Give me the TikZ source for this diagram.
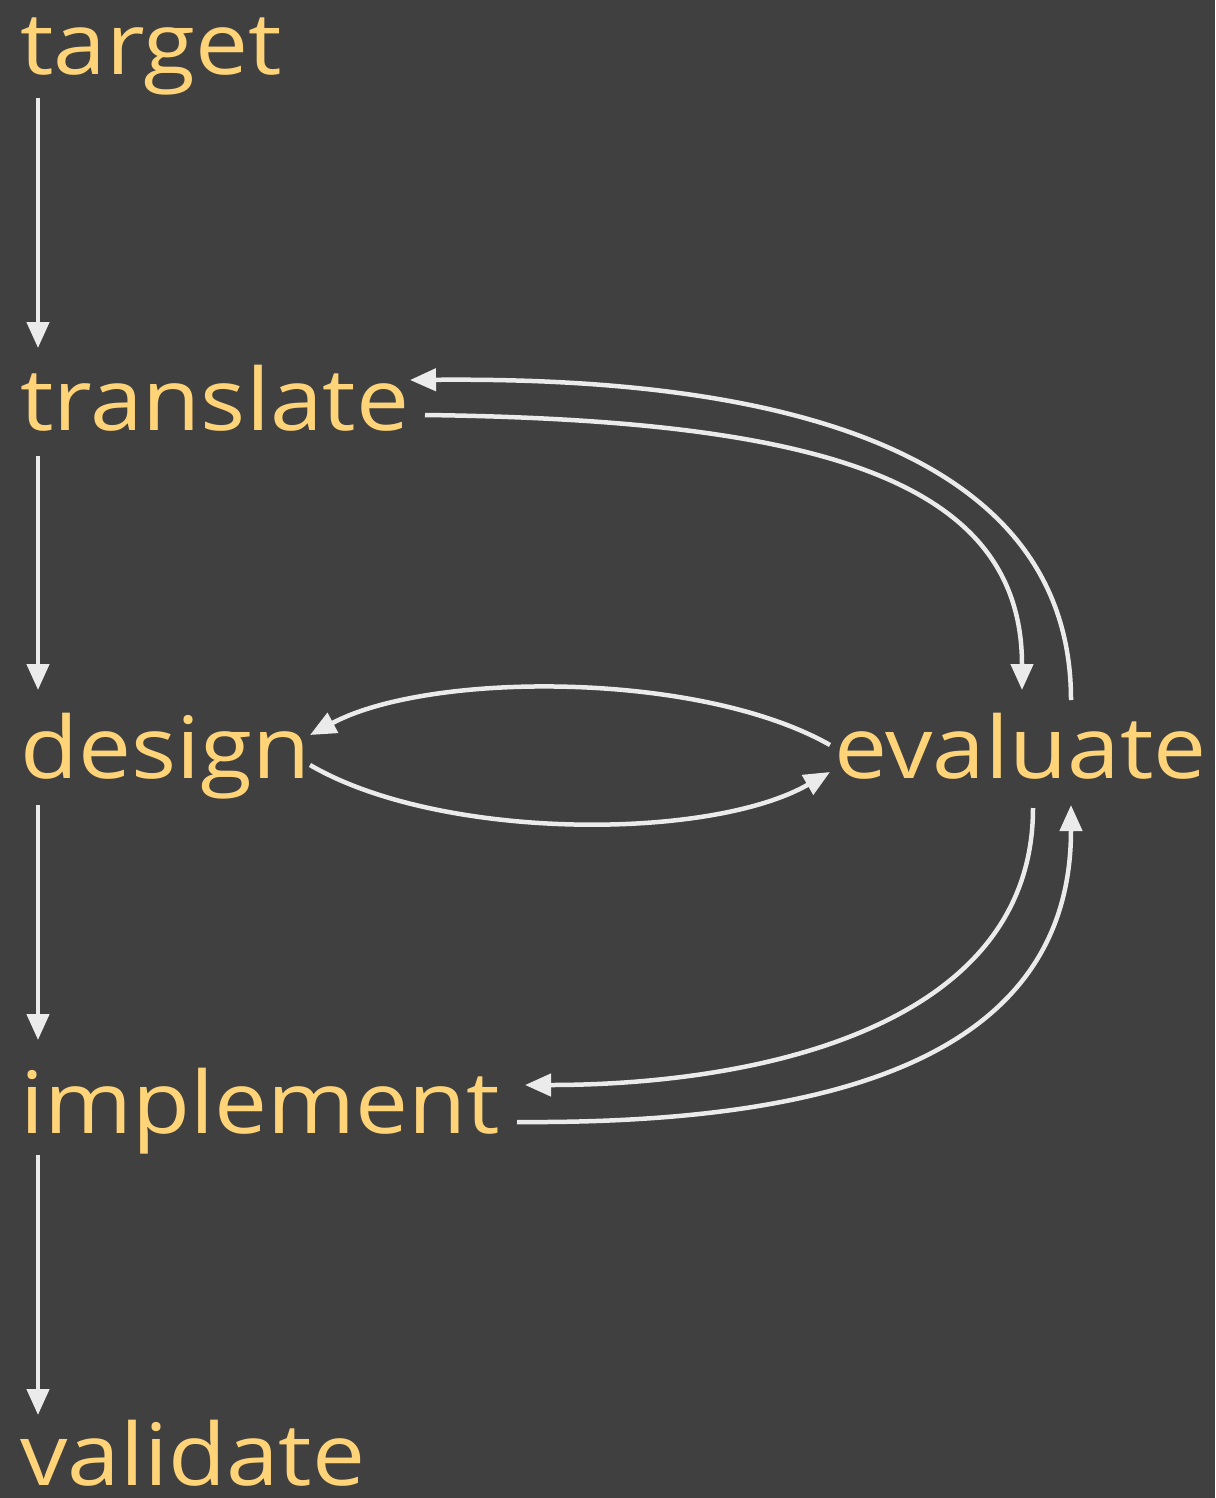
\documentclass[tikz,border=0pt]{standalone}
\usepackage{fontspec}
\setmainfont[FakeStretch=1.1]{Open Sans}
\usetikzlibrary{arrows.meta,calc}
\definecolor{bg}{HTML}{404040}
\definecolor{txt}{HTML}{FFD479}
\definecolor{ln}{HTML}{EBEBEB}
\begin{document}
\begin{tikzpicture}[x=1pt,y=-1pt,
  lbl/.style={anchor=base west,inner sep=0pt,text=txt,font=\fontsize{86}{90}\selectfont},
  arr/.style={draw=ln,line width=4.5pt,-{Triangle[length=26pt,width=22pt]}}]
\fill[bg] (0,0) rectangle (1215,1498);
\useasboundingbox (0,0) rectangle (1215,1498);
\node[lbl] (target) at (20,75) {target};
\node[lbl] (translate) at (20,430) {translate};
\node[lbl] (design) at (20,778) {design};
\node[lbl] (evaluate) at (834,778) {evaluate};
\node[lbl] (implement) at (20,1133) {implement};
\node[lbl] (validate) at (20,1485) {validate};
% vertical chain
\draw[arr] ($(target.base west)+(18,23)$) -- ($(translate.base west)+(18,-82)$);
\draw[arr] ($(translate.base west)+(18,26)$) -- ($(design.base west)+(18,-88)$);
\draw[arr] ($(design.base west)+(18,27)$) -- ($(implement.base west)+(18,-93)$);
\draw[arr] ($(implement.base west)+(18,22)$) -- ($(validate.base west)+(18,-70)$);
% translate <-> evaluate
\draw[arr] ($(evaluate.base west)+(237,-78)$) .. controls +(0,-300) and +(240,-2) .. ($(translate.base west)+(390,-50)$);
\draw[arr] ($(translate.base west)+(405,-15)$) .. controls +(395,5) and +(0,-210) .. ($(evaluate.base west)+(188,-88)$);
% design <-> evaluate
\draw[arr] ($(evaluate.base west)+(-4,-33)$) .. controls +(-130,-74) and +(120,-64) .. ($(design.base west)+(290,-43)$);
\draw[arr] ($(design.base west)+(290,-13)$) .. controls +(130,76) and +(-120,69) .. ($(evaluate.base west)+(-4,-6)$);
% implement <-> evaluate
\draw[arr] ($(evaluate.base west)+(199,30)$) .. controls +(0,220) and +(230,0) .. ($(implement.base west)+(505,-48)$);
\draw[arr] ($(implement.base west)+(497,-11)$) .. controls +(300,2) and +(0,260) .. ($(evaluate.base west)+(237,27)$);
\end{tikzpicture}
\end{document}
